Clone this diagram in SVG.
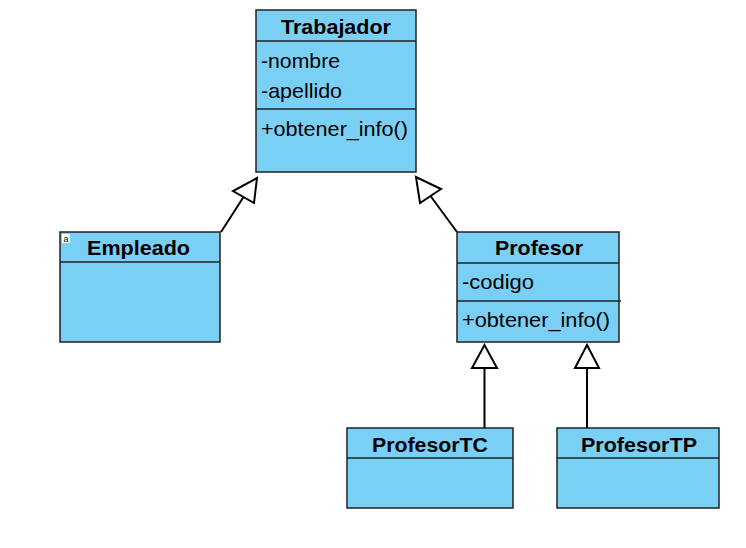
<svg xmlns="http://www.w3.org/2000/svg" width="746" height="548" viewBox="0 0 746 548">
<style>
.box{fill:#7acff5;stroke:#222;stroke-width:1.5}
.sep{stroke:#222;stroke-width:1.5}
.title{font-family:"Liberation Sans",Arial,sans-serif;font-size:21px;font-weight:bold;fill:#000}
.member{font-family:"Liberation Sans",Arial,sans-serif;font-size:21px;fill:#000}
.conn line{stroke:#000;stroke-width:2}
.conn polygon{fill:#fff;stroke:#000;stroke-width:2}
</style>
<rect width="746" height="548" fill="#fff"/>
<g id="Trabajador">
<rect class="box" x="256" y="10" width="160" height="162"/>
<line class="sep" x1="256" y1="41" x2="416" y2="41"/>
<line class="sep" x1="256" y1="109" x2="416" y2="109"/>
<text class="title" x="281" y="34" textLength="110" lengthAdjust="spacingAndGlyphs">Trabajador</text>
<text class="member" x="261" y="68" textLength="79" lengthAdjust="spacingAndGlyphs">-nombre</text>
<text class="member" x="261" y="98" textLength="81" lengthAdjust="spacingAndGlyphs">-apellido</text>
<text class="member" x="261" y="136" textLength="147" lengthAdjust="spacingAndGlyphs">+obtener_info()</text>
</g>
<g id="Empleado">
<rect class="box" x="60" y="232" width="160" height="110"/>
<line class="sep" x1="60" y1="262" x2="220" y2="262"/>
<rect x="62" y="234" width="8" height="9" fill="#fff"/>
<text x="66" y="242" font-family="Liberation Sans,Arial,sans-serif" font-size="9" text-anchor="middle" fill="#000">a</text>
<text class="title" x="87" y="255" textLength="103" lengthAdjust="spacingAndGlyphs">Empleado</text>
</g>
<g id="Profesor">
<rect class="box" x="457" y="232" width="162" height="110"/>
<line class="sep" x1="457" y1="263" x2="619" y2="263"/>
<line class="sep" x1="457" y1="301" x2="621" y2="301"/>
<text class="title" x="495" y="255" textLength="88" lengthAdjust="spacingAndGlyphs">Profesor</text>
<text class="member" x="462" y="289" textLength="72" lengthAdjust="spacingAndGlyphs">-codigo</text>
<text class="member" x="462" y="327" textLength="148" lengthAdjust="spacingAndGlyphs">+obtener_info()</text>
</g>
<g id="ProfesorTC">
<rect class="box" x="347" y="428" width="166" height="80"/>
<line class="sep" x1="347" y1="458" x2="513" y2="458"/>
<text class="title" x="372" y="452" textLength="116" lengthAdjust="spacingAndGlyphs">ProfesorTC</text>
</g>
<g id="ProfesorTP">
<rect class="box" x="557" y="428" width="162" height="80"/>
<line class="sep" x1="557" y1="458" x2="719" y2="458"/>
<text class="title" x="581" y="452" textLength="116" lengthAdjust="spacingAndGlyphs">ProfesorTP</text>
</g>
<g id="connectors" class="conn">
<line x1="221" y1="232" x2="243.5" y2="197"/>
<polygon points="257,178 233,191 254,203"/>
<line x1="457" y1="232" x2="430.5" y2="196"/>
<polygon points="416,177 420,203 441,189"/>
<line x1="484.5" y1="428" x2="484.5" y2="368"/>
<polygon points="484.5,345 472,368 497,368"/>
<line x1="587" y1="428" x2="587" y2="368"/>
<polygon points="587,345 575,368 599,368"/>
</g>
</svg>
